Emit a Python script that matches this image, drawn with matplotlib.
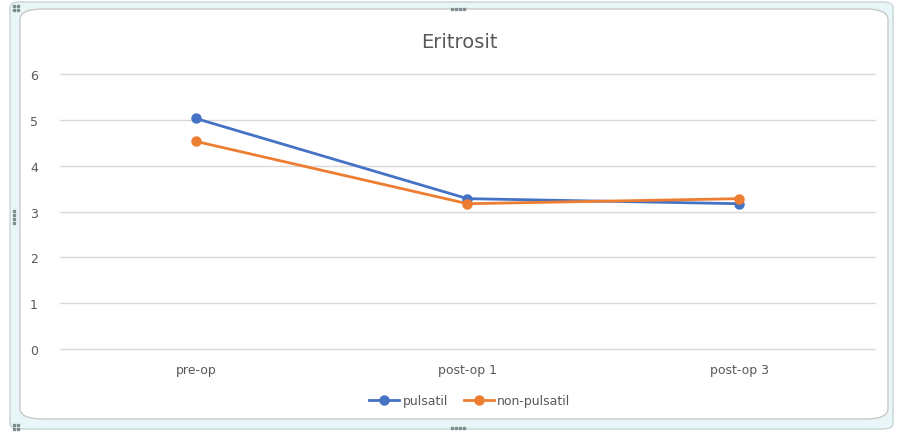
import matplotlib.pyplot as plt
from matplotlib.patches import FancyBboxPatch

# chart data
categories = ['pre-op', 'post-op 1', 'post-op 3']
pulsatil = [5.03, 3.28, 3.17]
non_pulsatil = [4.53, 3.17, 3.28]
y_ticks = [0, 1, 2, 3, 4, 5, 6]

W, H = 898, 435
fig = plt.figure(figsize=(W / 100, H / 100), dpi=100)
fig.patch.set_facecolor('white')

# selection frame around the chart (Excel style)
outer = FancyBboxPatch((10 / W, 5 / H), 883 / W, 427 / H,
                       boxstyle='round,pad=0,rounding_size=0.012',
                       transform=fig.transFigure, facecolor='#e8f6f8',
                       edgecolor='#c8d4d6', linewidth=1.0, zorder=-3)
inner = FancyBboxPatch((20 / W, 15 / H), 868 / W, 410 / H,
                       boxstyle='round,pad=0,rounding_size=0.025',
                       transform=fig.transFigure, facecolor='white',
                       edgecolor='#c9c9c9', linewidth=1.0, zorder=-2)
fig.patches.extend([outer, inner])

# grip handles
handle_col = '#7f8c8d'
for hx, hy in [(16, 9), (16, 428)]:
    for dx in (-2, 2):
        for dy in (-2, 2):
            fig.patches.append(plt.Rectangle(((hx + dx - 1) / W, (H - hy - dy - 1) / H),
                                             2 / W, 2 / H, transform=fig.transFigure,
                                             color=handle_col, zorder=-1))
for hx, hy, horiz in [(458, 10, True), (458, 429, True), (14, 218, False)]:
    for k in range(-3, 4, 2):
        px, py = (hx + k * 2, hy) if horiz else (hx, hy + k * 2)
        fig.patches.append(plt.Rectangle(((px - 1) / W, (H - py - 1) / H), 2 / W, 2 / H,
                                         transform=fig.transFigure, color=handle_col, zorder=-1))

ax = fig.add_axes([60 / W, 1 - 350 / H, 815 / W, 275 / H])
ax.set_facecolor('none')
x = range(len(categories))
ax.plot(x, pulsatil, color='#4472C4', linewidth=2.0, marker='o', markersize=6.5,
        label='pulsatil', zorder=3)
ax.plot(x, non_pulsatil, color='#ED7D31', linewidth=2.0, marker='o', markersize=6.5,
        label='non-pulsatil', zorder=3)

ax.set_xlim(-0.5, len(categories) - 0.5)
ax.set_ylim(0, 6)
ax.set_yticks(y_ticks)
ax.set_xticks(list(x))
ax.set_xticklabels(categories)
ax.grid(axis='y', color='#d9d9d9', linewidth=1)
for gl in ax.get_ygridlines():
    gl.set_clip_on(False)
ax.set_axisbelow(True)
for s in ax.spines.values():
    s.set_visible(False)
ax.tick_params(length=0, colors='#595959', labelsize=9)
ax.tick_params(axis='y', pad=16)
ax.tick_params(axis='x', pad=10)

fig.text(459 / W, 1 - 43 / H, 'Eritrosit', ha='center', va='center',
         fontsize=14, color='#595959')

fig.legend(loc='center', bbox_to_anchor=(470 / W, 1 - 402 / H), ncol=2,
           frameon=False, fontsize=9, labelcolor='#595959', handlelength=2.4,
           columnspacing=1.2, handletextpad=0.3)

fig.savefig('out.png', dpi=100)
